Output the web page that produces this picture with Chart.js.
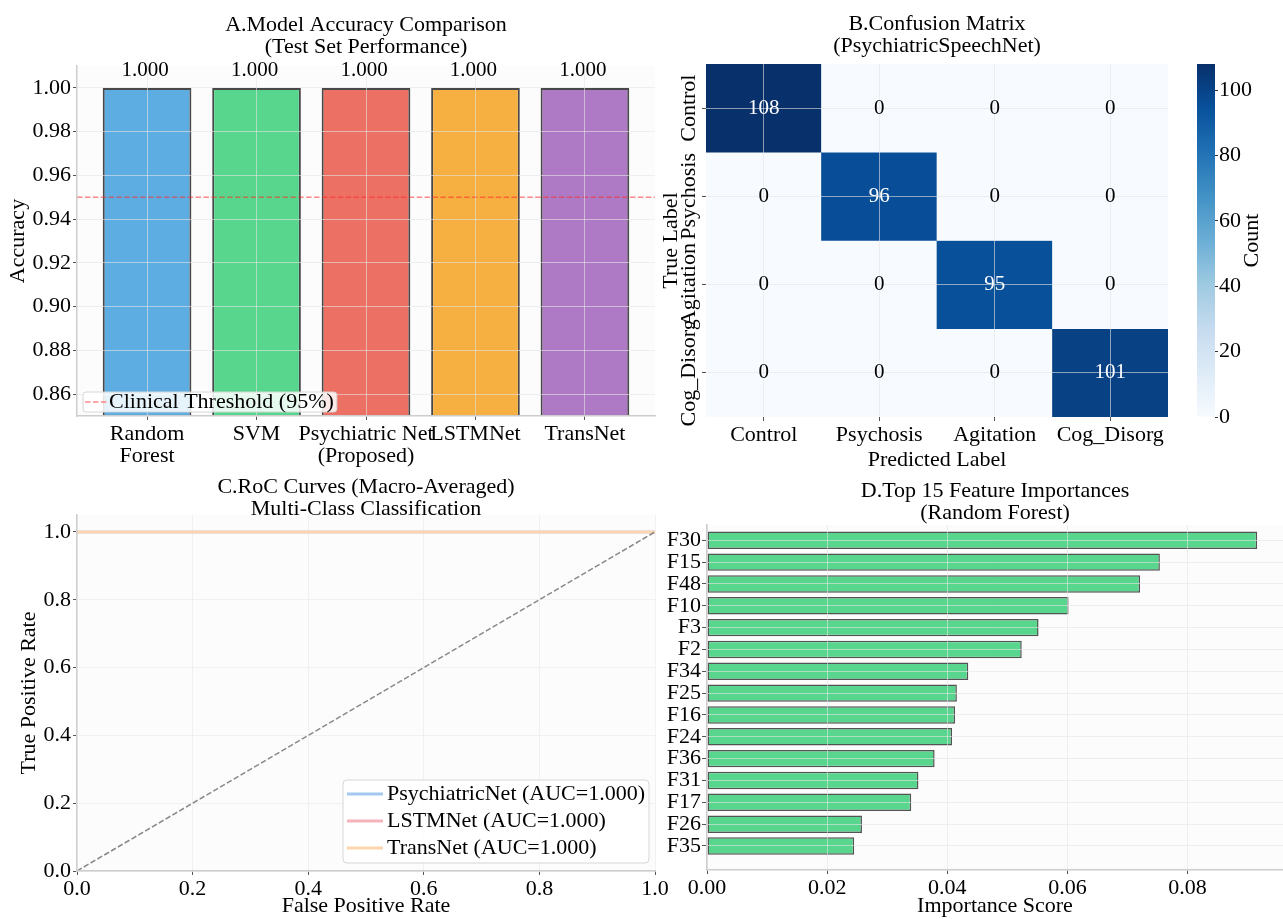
<!DOCTYPE html>
<html>
<head>
<meta charset="utf-8">
<title>Model evaluation dashboard</title>
<script src="https://cdn.jsdelivr.net/npm/chart.js@4.4.0/dist/chart.umd.min.js"></script>
<style>
  html, body { margin: 0; padding: 0; background: #ffffff; }
  #board { position: relative; width: 1283px; height: 919px; overflow: hidden; background: #ffffff; }
  #board canvas { position: absolute; left: 0; top: 0; }
</style>
</head>
<body>
<div id="board">
  <canvas id="accChart" width="1283" height="919"></canvas>
  <canvas id="cmChart" width="1283" height="919"></canvas>
  <canvas id="cbChart" width="1283" height="919"></canvas>
  <canvas id="rocChart" width="1283" height="919"></canvas>
  <canvas id="fiChart" width="1283" height="919"></canvas>
</div>
<script>
// ---------------- data ----------------
// A. accuracy per model on the test set
const modelNames = [['Random', 'Forest'], 'SVM', ['Psychiatric Net', '(Proposed)'], 'LSTMNet', 'TransNet'];
const modelAccuracy = [1.000, 1.000, 1.000, 1.000, 1.000];
const accuracyTicks = [0.86, 0.88, 0.90, 0.92, 0.94, 0.96, 0.98, 1.00];
const clinicalThreshold = 0.95;

// B. confusion matrix (rows = true label, columns = predicted label)
const classNames = ['Control', 'Psychosis', 'Agitation', 'Cog_Disorg'];
const confusionRows = [
  [108, 0, 0, 0],
  [0, 96, 0, 0],
  [0, 0, 95, 0],
  [0, 0, 0, 101]
];
const countTicks = [0, 20, 40, 60, 80, 100];

// C. macro-averaged ROC curves
const rocModels = ['PsychiatricNet', 'LSTMNet', 'TransNet'];
const rocAuc = [1.000, 1.000, 1.000];
const rocFpr = [[0, 1], [0, 1], [0, 1]];
const rocTpr = [[1, 1], [1, 1], [1, 1]];
const chanceLine = [0, 1];
const rateTicks = [0, 0.2, 0.4, 0.6, 0.8, 1.0];

// D. random forest feature importances (top 15)
const featureNames = ['F30', 'F15', 'F48', 'F10', 'F3', 'F2', 'F34', 'F25', 'F16', 'F24', 'F36', 'F31', 'F17', 'F26', 'F35'];
const featureImportance = [0.0916, 0.0754, 0.0721, 0.0602, 0.0552, 0.0524, 0.0435, 0.0416, 0.0413, 0.0408, 0.0379, 0.0352, 0.0340, 0.0258, 0.0245];
const importanceTicks = [0.00, 0.02, 0.04, 0.06, 0.08];

// ---------------- style ----------------
const W = 1283, H = 919;
const FONT = '"Liberation Serif", "Times New Roman", serif';
const GRID = 'rgba(228,228,228,0.6)';
const SPINE = '#cdcdcd';
const TICK = '#555555';
const PLOT_BG = '#fcfcfc';
const modelColors = ['#5dade2', '#58d68d', '#ec7063', '#f5b041', '#af7ac5'];
const rocColors = ['#a4c8f0', '#f6b3bc', '#fbd6ae'];
const featureColor = '#58d68d';
const bluesStops = ['#f7fbff', '#deebf7', '#c6dbef', '#9ecae1', '#6baed6', '#4292c6', '#2171b5', '#08519c', '#08306b'];

Chart.defaults.font.family = FONT;
Chart.defaults.font.size = 22;
Chart.defaults.color = '#000000';
Chart.defaults.animation = false;
Chart.defaults.responsive = false;
Chart.defaults.plugins.legend.display = false;
Chart.defaults.plugins.tooltip.enabled = false;

function hexToRgb(h) {
  const n = parseInt(h.slice(1), 16);
  return [(n >> 16) & 255, (n >> 8) & 255, n & 255];
}
function blues(t) {
  t = Math.max(0, Math.min(1, t));
  const n = bluesStops.length - 1;
  const p = t * n;
  const i = Math.min(n - 1, Math.floor(p));
  const f = p - i;
  const a = hexToRgb(bluesStops[i]), b = hexToRgb(bluesStops[i + 1]);
  const c = a.map((v, k) => Math.round(v + (b[k] - v) * f));
  return `rgb(${c[0]},${c[1]},${c[2]})`;
}

function titleOpts(lines, padTop, padBottom) {
  return {
    display: true, text: lines, fullSize: false, color: '#000',
    font: { size: 22, weight: 'normal', lineHeight: 1.0 },
    padding: { top: padTop, bottom: padBottom }
  };
}
function axisTitle(text, pad) {
  return { display: true, text: text, color: '#000', font: { size: 22, lineHeight: 1.2 }, padding: pad };
}
function fixedTicks(values) {
  return scale => { scale.ticks = values.map(v => ({ value: v })); };
}
const gridStyle = { color: GRID, z: 1, tickColor: TICK, tickLength: 4, offset: false };
const spineStyle = { display: true, color: SPINE, width: 1.5, z: 2 };

// fills the plotting area
const plotBg = {
  id: 'plotBg',
  beforeDraw(chart, args, opts) {
    if (!opts || !opts.color) return;
    const { ctx, chartArea: a } = chart;
    ctx.save();
    ctx.fillStyle = opts.color;
    ctx.fillRect(a.left, a.top, a.right - a.left, a.bottom - a.top);
    ctx.restore();
  }
};
Chart.register(plotBg);

// ---------------- A. accuracy bars ----------------
const accuracyLabels = {
  id: 'accuracyLabels',
  afterDatasetsDraw(chart) {
    const { ctx } = chart;
    const meta = chart.getDatasetMeta(0);
    ctx.save();
    ctx.font = '21px ' + FONT;
    ctx.fillStyle = '#000';
    ctx.textAlign = 'center';
    ctx.textBaseline = 'alphabetic';
    meta.data.forEach((bar, i) => ctx.fillText(modelAccuracy[i].toFixed(3), bar.x - 2, bar.y - 12));
    ctx.restore();
  }
};
const thresholdLine = {
  id: 'thresholdLine',
  afterDatasetsDraw(chart) {
    const { ctx, chartArea: a } = chart;
    const y = chart.scales.y.getPixelForValue(clinicalThreshold);
    ctx.save();
    ctx.strokeStyle = 'rgba(255,40,40,0.55)';
    ctx.lineWidth = 1.6;
    ctx.setLineDash([5.5, 2.4]);
    ctx.beginPath();
    ctx.moveTo(a.left, y);
    ctx.lineTo(a.right, y);
    ctx.stroke();
    ctx.restore();
  }
};
const thresholdLegend = {
  id: 'thresholdLegend',
  afterDraw(chart) {
    const { ctx, chartArea: a } = chart;
    const label = `Clinical Threshold (${Math.round(clinicalThreshold * 100)}%)`;
    ctx.save();
    ctx.font = '22px ' + FONT;
    const tw = ctx.measureText(label).width;
    const pad = 2, lineLen = 23, gap = 1, h = 20;
    const w = pad + lineLen + gap + tw + 3;
    const x = a.left + 6, y = a.bottom - 4 - h;
    ctx.beginPath();
    ctx.roundRect(x, y, w, h, 3);
    ctx.fillStyle = 'rgba(255,255,255,0.85)';
    ctx.fill();
    ctx.strokeStyle = '#d6d6d6';
    ctx.lineWidth = 1;
    ctx.stroke();
    const cy = y + h / 2;
    ctx.strokeStyle = 'rgba(255,40,40,0.55)';
    ctx.lineWidth = 1.6;
    ctx.setLineDash([5.5, 2.4]);
    ctx.beginPath();
    ctx.moveTo(x + pad, cy);
    ctx.lineTo(x + pad + lineLen, cy);
    ctx.stroke();
    ctx.setLineDash([]);
    ctx.fillStyle = '#000';
    ctx.textBaseline = 'middle';
    ctx.textAlign = 'left';
    ctx.fillText(label, x + pad + lineLen + gap, cy);
    ctx.restore();
  }
};

new Chart(document.getElementById('accChart'), {
  type: 'bar',
  data: {
    datasets: [{
      data: modelAccuracy.map((v, i) => ({ x: i, y: v })),
      backgroundColor: modelColors,
      borderColor: 'rgba(40,40,40,0.85)',
      borderWidth: 2,
      borderSkipped: 'start',
      barPercentage: 0.81,
      categoryPercentage: 1
    }]
  },
  options: {
    layout: { padding: { left: 0, top: 0, right: W - 655, bottom: H - 416 - 54 } },
    scales: {
      x: {
        type: 'linear', min: -0.64, max: 4.64, offset: false,
        afterBuildTicks: fixedTicks(modelNames.map((_, i) => i)),
        grid: gridStyle, border: spineStyle,
        ticks: { autoSkip: false, maxRotation: 0, padding: 3, font: { size: 22, lineHeight: 1.0 }, callback: (v, i) => modelNames[i] },
        afterFit: s => { s.height = 54; }
      },
      y: {
        min: 0.85, max: 1.01,
        afterBuildTicks: fixedTicks(accuracyTicks),
        grid: gridStyle, border: spineStyle,
        ticks: { autoSkip: false, padding: 2, font: { size: 22 }, callback: v => v.toFixed(2) },
        title: axisTitle('Accuracy', { top: 5, bottom: 0 }),
        afterFit: s => { s.width = 77; }
      }
    },
    plugins: {
      title: titleOpts(['A.Model Accuracy Comparison', '(Test Set Performance)'], 14, 8),
      plotBg: { color: PLOT_BG }
    }
  },
  plugins: [accuracyLabels, thresholdLine, thresholdLegend]
});

// ---------------- B. confusion matrix ----------------
const cmMax = Math.max(...confusionRows.flat());

const cellValues = {
  id: 'cellValues',
  afterDraw(chart) {
    const { ctx } = chart;
    ctx.save();
    ctx.font = '21px ' + FONT;
    ctx.textAlign = 'center';
    ctx.textBaseline = 'middle';
    confusionRows.forEach((row, r) => {
      const meta = chart.getDatasetMeta(r);
      meta.data.forEach((cell, c) => {
        const v = row[c];
        ctx.fillStyle = v > cmMax / 2 ? '#ffffff' : '#000000';
        ctx.fillText(String(v), cell.x, (cell.y + cell.base) / 2);
      });
    });
    ctx.restore();
  }
};
const rowLabels = {
  id: 'rowLabels',
  afterDraw(chart) {
    const { ctx } = chart;
    const ys = chart.scales.y;
    ctx.save();
    ctx.font = '22px ' + FONT;
    ctx.fillStyle = '#000';
    ctx.textAlign = 'center';
    ctx.textBaseline = 'middle';
    ys.ticks.forEach((t, i) => {
      const y = ys.getPixelForValue(t.value);
      ctx.save();
      ctx.translate(ys.right - 17, y);
      ctx.rotate(-Math.PI / 2);
      ctx.fillText(classNames[i], 0, 0);
      ctx.restore();
    });
    ctx.restore();
  }
};

new Chart(document.getElementById('cmChart'), {
  type: 'bar',
  data: {
    labels: classNames,
    datasets: confusionRows.map((row, r) => ({
      data: row.map(() => [r, r + 1]),
      backgroundColor: row.map(v => blues(v / cmMax)),
      borderWidth: 0,
      barPercentage: 1,
      categoryPercentage: 1,
      grouped: false
    }))
  },
  options: {
    layout: { padding: { left: 650, top: 0, right: W - 1168, bottom: H - 417 - 56 } },
    scales: {
      x: {
        grid: gridStyle, border: { display: false },
        ticks: { autoSkip: false, maxRotation: 0, padding: 3, font: { size: 22, lineHeight: 1.0 } },
        title: axisTitle('Predicted Label', { top: 0, bottom: 0 }),
        afterFit: s => { s.height = 56; }
      },
      y: {
        type: 'linear', reverse: true, min: 0, max: classNames.length,
        afterBuildTicks: fixedTicks(classNames.map((_, i) => i + 0.5)),
        grid: gridStyle, border: { display: false },
        ticks: { display: false, autoSkip: false },
        title: axisTitle('True Label', { top: 8, bottom: 0 }),
        afterFit: s => { s.width = 56; }
      }
    },
    plugins: {
      title: titleOpts(['B.Confusion Matrix', '(PsychiatricSpeechNet)'], 13, 7)
    }
  },
  plugins: [cellValues, rowLabels]
});

// colour bar for the matrix
const countLabel = {
  id: 'countLabel',
  afterDraw(chart) {
    const { ctx, chartArea: a } = chart;
    ctx.save();
    ctx.font = '22px ' + FONT;
    ctx.fillStyle = '#000';
    ctx.textAlign = 'center';
    ctx.textBaseline = 'middle';
    ctx.translate(a.right + 37, (a.top + a.bottom) / 2);
    ctx.rotate(-Math.PI / 2);
    ctx.fillText('Count', 0, 0);
    ctx.restore();
  }
};
new Chart(document.getElementById('cbChart'), {
  type: 'bar',
  data: {
    labels: ['Count'],
    datasets: [{
      data: [[0, cmMax]],
      backgroundColor: c => {
        const ch = c.chart;
        if (!ch.chartArea) return bluesStops[0];
        const ys = ch.scales.y;
        const g = ch.ctx.createLinearGradient(0, ys.getPixelForValue(0), 0, ys.getPixelForValue(cmMax));
        bluesStops.forEach((col, i) => g.addColorStop(i / (bluesStops.length - 1), col));
        return g;
      },
      borderWidth: 0,
      barPercentage: 1,
      categoryPercentage: 1
    }]
  },
  options: {
    layout: { padding: { left: 1197, top: 64, right: 0, bottom: H - 417 } },
    scales: {
      x: { display: false },
      y: {
        position: 'right', min: 0, max: cmMax,
        afterBuildTicks: fixedTicks(countTicks),
        grid: { drawOnChartArea: false, tickLength: 3, tickColor: '#333' },
        border: { display: false },
        ticks: { autoSkip: false, padding: 1, font: { size: 22 } },
        afterFit: s => { s.width = 68; }
      }
    }
  },
  plugins: [countLabel]
});

// ---------------- C. ROC curves ----------------
const rocLegend = {
  id: 'rocLegend',
  afterDraw(chart) {
    const { ctx, chartArea: a } = chart;
    const items = chart.data.datasets.filter(d => d.showInLegend);
    ctx.save();
    ctx.font = '22px ' + FONT;
    const pad = 4, lineLen = 36, gap = 4, rowH = 27;
    const tw = Math.max(...items.map(d => ctx.measureText(d.label).width));
    const w = pad + lineLen + gap + tw + pad;
    const h = items.length * rowH + 2;
    const x = a.right - 6 - w, y = a.bottom - 8 - h;
    ctx.beginPath();
    ctx.roundRect(x, y, w, h, 4);
    ctx.fillStyle = 'rgba(255,255,255,0.85)';
    ctx.fill();
    ctx.strokeStyle = '#d6d6d6';
    ctx.lineWidth = 1;
    ctx.stroke();
    items.forEach((d, i) => {
      const cy = y + 14 + i * rowH;
      ctx.strokeStyle = d.borderColor;
      ctx.lineWidth = 3;
      ctx.beginPath();
      ctx.moveTo(x + pad, cy);
      ctx.lineTo(x + pad + lineLen, cy);
      ctx.stroke();
      ctx.fillStyle = '#000';
      ctx.textAlign = 'left';
      ctx.textBaseline = 'middle';
      ctx.fillText(d.label, x + pad + lineLen + gap, cy);
    });
    ctx.restore();
  }
};

new Chart(document.getElementById('rocChart'), {
  type: 'line',
  data: {
    datasets: rocModels.map((m, i) => ({
      label: `${m} (AUC=${rocAuc[i].toFixed(3)})`,
      showInLegend: true,
      data: rocFpr[i].map((x, k) => ({ x: x, y: rocTpr[i][k] })),
      borderColor: rocColors[i],
      borderWidth: 2.5,
      pointRadius: 0,
      fill: false,
      order: rocModels.length - i
    })).concat([{
      label: 'chance',
      showInLegend: false,
      data: chanceLine.map(v => ({ x: v, y: v })),
      borderColor: 'rgba(115,115,115,0.85)',
      borderWidth: 1.5,
      borderDash: [5.5, 2.4],
      pointRadius: 0,
      fill: false,
      order: 0
    }])
  },
  options: {
    layout: { padding: { left: 0, top: 470, right: W - 655, bottom: 0 } },
    scales: {
      x: {
        type: 'linear', min: 0, max: 1,
        afterBuildTicks: fixedTicks(rateTicks),
        grid: { color: 'rgba(232,232,232,0.55)', tickColor: TICK, tickLength: 4 }, border: spineStyle,
        ticks: { autoSkip: false, maxRotation: 0, padding: 3, font: { size: 22, lineHeight: 1.0 }, callback: v => v.toFixed(1) },
        title: axisTitle('False Positive Rate', { top: 0, bottom: 0 }),
        afterFit: s => { s.height = 48; }
      },
      y: {
        min: 0, max: 1.05,
        afterBuildTicks: fixedTicks(rateTicks),
        grid: { color: 'rgba(232,232,232,0.55)', tickColor: TICK, tickLength: 4 }, border: spineStyle,
        ticks: { autoSkip: false, padding: 2, font: { size: 22 }, callback: v => v.toFixed(1) },
        title: axisTitle('True Positive Rate', { top: 16, bottom: 0 }),
        afterFit: s => { s.width = 77; }
      }
    },
    plugins: {
      title: titleOpts(['C.RoC Curves (Macro-Averaged)', 'Multi-Class Classification'], 6, -5),
      plotBg: { color: PLOT_BG }
    }
  },
  plugins: [rocLegend]
});

// ---------------- D. feature importances ----------------
new Chart(document.getElementById('fiChart'), {
  type: 'bar',
  data: {
    datasets: [{
      data: featureImportance.map((v, i) => ({ x: v, y: i })),
      backgroundColor: featureColor,
      borderColor: 'rgba(40,40,40,0.8)',
      borderWidth: 1.5,
      borderSkipped: false,
      barPercentage: 0.8,
      categoryPercentage: 1
    }]
  },
  options: {
    indexAxis: 'y',
    layout: { padding: { left: 650, top: 470, right: 0, bottom: 0 } },
    scales: {
      x: {
        type: 'linear', min: 0, max: 0.0959,
        afterBuildTicks: fixedTicks(importanceTicks),
        grid: gridStyle, border: spineStyle,
        ticks: { autoSkip: false, maxRotation: 0, padding: 3, font: { size: 22, lineHeight: 1.0 }, callback: v => v.toFixed(2) },
        title: axisTitle('Importance Score', { top: 0, bottom: 0 }),
        afterFit: s => { s.height = 49; }
      },
      y: {
        type: 'linear', reverse: true, min: -0.7, max: 15.1, offset: false,
        afterBuildTicks: fixedTicks(featureNames.map((_, i) => i)),
        grid: Object.assign({}, gridStyle, { tickLength: 5 }), border: spineStyle,
        ticks: { autoSkip: false, padding: 1, font: { size: 22 }, callback: (v, i) => featureNames[i] },
        afterFit: s => { s.width = 57; }
      }
    },
    plugins: {
      title: titleOpts(['D.Top 15 Feature Importances', '(Random Forest)'], 10, 1),
      plotBg: { color: PLOT_BG }
    }
  }
});
</script>
</body>
</html>
